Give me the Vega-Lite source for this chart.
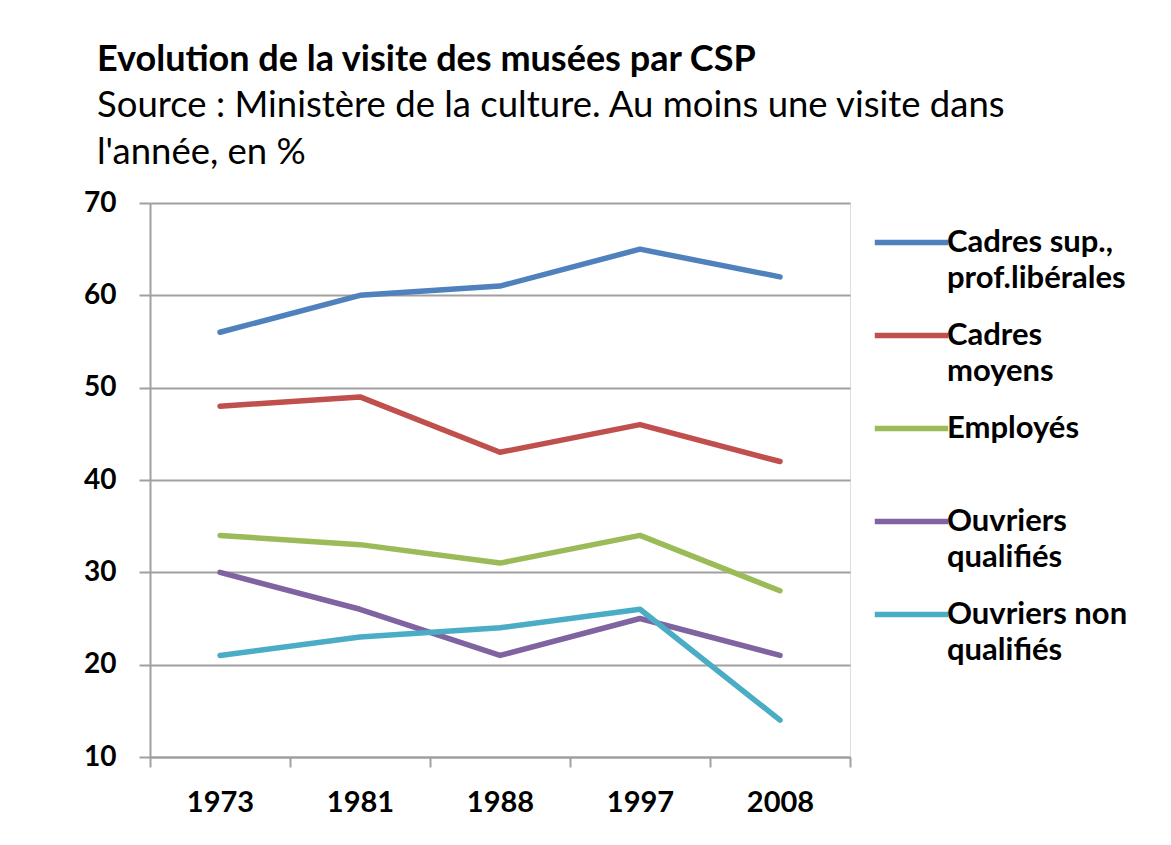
{
  "$schema": "https://vega.github.io/schema/vega-lite/v6.json",
  "width": 700,
  "height": 554,
  "autosize": {"type": "none"},
  "padding": {"left": 150, "top": 203, "right": 321, "bottom": 88},
  "background": "white",
  "title": {
    "text": "Evolution de la visite des musées par CSP",
    "subtitle": ["Source : Ministère de la culture. Au moins une visite dans", "l'année, en %"],
    "anchor": "start",
    "frame": "group",
    "dx": -53,
    "offset": 17,
    "font": "Lato",
    "fontSize": 36,
    "fontWeight": "bold",
    "color": "#000000",
    "subtitleFont": "Lato",
    "subtitleFontSize": 36.5,
    "subtitleColor": "#000000",
    "subtitleLineHeight": 47,
    "subtitlePadding": 9
  },
  "data": {
    "values": [
      {"annee": "1973", "csp": "Cadres sup., prof.libérales", "pct": 56},
      {"annee": "1981", "csp": "Cadres sup., prof.libérales", "pct": 60},
      {"annee": "1988", "csp": "Cadres sup., prof.libérales", "pct": 61},
      {"annee": "1997", "csp": "Cadres sup., prof.libérales", "pct": 65},
      {"annee": "2008", "csp": "Cadres sup., prof.libérales", "pct": 62},
      {"annee": "1973", "csp": "Cadres moyens", "pct": 48},
      {"annee": "1981", "csp": "Cadres moyens", "pct": 49},
      {"annee": "1988", "csp": "Cadres moyens", "pct": 43},
      {"annee": "1997", "csp": "Cadres moyens", "pct": 46},
      {"annee": "2008", "csp": "Cadres moyens", "pct": 42},
      {"annee": "1973", "csp": "Employés", "pct": 34},
      {"annee": "1981", "csp": "Employés", "pct": 33},
      {"annee": "1988", "csp": "Employés", "pct": 31},
      {"annee": "1997", "csp": "Employés", "pct": 34},
      {"annee": "2008", "csp": "Employés", "pct": 28},
      {"annee": "1973", "csp": "Ouvriers qualifiés", "pct": 30},
      {"annee": "1981", "csp": "Ouvriers qualifiés", "pct": 26},
      {"annee": "1988", "csp": "Ouvriers qualifiés", "pct": 21},
      {"annee": "1997", "csp": "Ouvriers qualifiés", "pct": 25},
      {"annee": "2008", "csp": "Ouvriers qualifiés", "pct": 21},
      {"annee": "1973", "csp": "Ouvriers non qualifiés", "pct": 21},
      {"annee": "1981", "csp": "Ouvriers non qualifiés", "pct": 23},
      {"annee": "1988", "csp": "Ouvriers non qualifiés", "pct": 24},
      {"annee": "1997", "csp": "Ouvriers non qualifiés", "pct": 26},
      {"annee": "2008", "csp": "Ouvriers non qualifiés", "pct": 14}
    ]
  },
  "mark": {"type": "line", "strokeWidth": 5.5, "strokeCap": "round", "strokeJoin": "round"},
  "encoding": {
    "x": {
      "field": "annee",
      "type": "ordinal",
      "scale": {"type": "band", "paddingInner": 0, "paddingOuter": 0},
      "axis": {
        "title": null,
        "labelAngle": 0,
        "tickBand": "extent",
        "grid": false,
        "domainColor": "#a0a0a0",
        "domainWidth": 2,
        "tickColor": "#a0a0a0",
        "tickWidth": 2,
        "tickSize": 10,
        "labelPadding": 21,
        "labelFont": "Lato",
        "labelFontSize": 29,
        "labelFontWeight": "bold",
        "labelColor": "#000000"
      }
    },
    "y": {
      "field": "pct",
      "type": "quantitative",
      "scale": {"domain": [10, 70], "nice": false, "zero": false},
      "axis": {
        "title": null,
        "values": [10, 20, 30, 40, 50, 60, 70],
        "grid": true,
        "gridColor": "#a0a0a0",
        "gridWidth": 2,
        "domainColor": "#a0a0a0",
        "domainWidth": 2,
        "tickColor": "#a0a0a0",
        "tickWidth": 2,
        "tickSize": 11,
        "labelPadding": 23,
        "labelFont": "Lato",
        "labelFontSize": 28,
        "labelFontWeight": "bold",
        "labelColor": "#000000"
      }
    },
    "color": {
      "field": "csp",
      "type": "nominal",
      "sort": ["Cadres sup., prof.libérales", "Cadres moyens", "Employés", "Ouvriers qualifiés", "Ouvriers non qualifiés"],
      "scale": {
        "domain": ["Cadres sup., prof.libérales", "Cadres moyens", "Employés", "Ouvriers qualifiés", "Ouvriers non qualifiés"],
        "range": ["#4F81BD", "#C0504D", "#9BBB59", "#8064A2", "#4BACC6"]
      },
      "legend": {
        "title": null,
        "orient": "none",
        "legendX": 722,
        "legendY": 0,
        "symbolType": "stroke",
        "symbolSize": 5400,
        "symbolStrokeWidth": 5.5,
        "labelOffset": -4,
        "labelFont": "Lato",
        "labelFontSize": 31,
        "labelFontWeight": "bold",
        "labelColor": "#000000",
        "labelLimit": 300,
        "labelExpr": "datum.label == 'Cadres sup., prof.libérales' ? ['Cadres sup.,', 'prof.libérales'] : datum.label == 'Cadres moyens' ? ['Cadres', 'moyens'] : datum.label == 'Employés' ? ['Employés', ' '] : datum.label == 'Ouvriers qualifiés' ? ['Ouvriers', 'qualifiés'] : ['Ouvriers non', 'qualifiés']",
        "encode": {"labels": {"update": {"lineHeight": {"value": 36}}}}
      }
    }
  }
}
